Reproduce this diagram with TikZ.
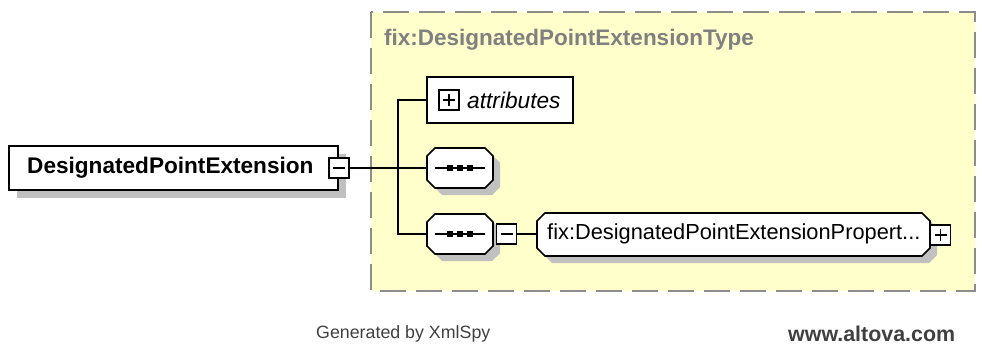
\documentclass[tikz,border=0pt]{standalone}
\usepackage{fontspec}
\setmainfont{Liberation Sans}
\definecolor{yellowbg}{HTML}{FFFFCC}
\definecolor{dashgray}{HTML}{8C8C8C}
\definecolor{titlegray}{HTML}{808080}
\definecolor{shadowgray}{HTML}{C0C0C0}
\definecolor{footgray}{HTML}{404040}
\newcommand\octpath[5]{%
  \path[#5] ({#1+8},#2) -- ({#3-8},#2) -- (#3,{#2+8}) -- (#3,{#4-8}) -- ({#3-8},#4) -- ({#1+8},#4) -- (#1,{#4-8}) -- (#1,{#2+8}) -- cycle;}
\newcommand\seqdots[2]{%
  \draw[line width=1.6pt] ({#1-25},#2) -- ({#1+25},#2);
  \fill ({#1-13},{#2-3}) rectangle ({#1-7},{#2+3});
  \fill ({#1-3},{#2-3}) rectangle ({#1+3},{#2+3});
  \fill ({#1+7},{#2-3}) rectangle ({#1+13},{#2+3});}
\tikzset{
  conn/.style={line width=1.6pt, black},
  boxline/.style={draw=black, line width=1.6pt, fill=white},
  shadowfill/.style={fill=shadowgray},
  expbox/.style={draw=black, line width=1.5pt, fill=white, minimum width=20pt, minimum height=20pt, inner sep=0pt},
  signline/.style={line width=1.5pt},
  anchorbox/.style={draw=none, inner sep=0pt},
  lbl/.style={inner sep=0pt, font=\fontsize{22}{26}\selectfont},
}
\begin{document}
\begin{tikzpicture}[x=1pt,y=-1pt]
\useasboundingbox (0,0) rectangle (982,350);
% type container
\draw[fill=yellowbg, draw=dashgray, line width=2pt, dash pattern=on 26pt off 10pt] (371,12) rectangle (975,291);
\node[lbl, anchor=west, text=titlegray, font=\fontsize{22.5}{26}\selectfont\bfseries] (title) at (384,40) {fix:DesignatedPointExtensionType};
% main element
\fill[shadowfill] (17,154) rectangle (346,198);
\node[boxline, minimum width=329pt, minimum height=44pt, inner sep=0pt] (main) at (173.5,168) {};
\node[lbl, anchor=west, font=\fontsize{22.6}{26}\selectfont\bfseries] (mainlabel) at (27,168) {DesignatedPointExtension};
\node[expbox] (mainminus) at (339,168) {};
\draw[signline] ([xshift=-6pt]mainminus.center) -- ([xshift=6pt]mainminus.center);
% attributes
\node[boxline, minimum width=146pt, minimum height=46pt, inner sep=0pt] (attr) at (500,100) {};
\node[expbox] (attrplus) at (449,100) {};
\draw[signline] ([xshift=-6pt]attrplus.center) -- ([xshift=6pt]attrplus.center)
  ([yshift=-6pt]attrplus.center) -- ([yshift=6pt]attrplus.center);
\node[lbl, anchor=west, font=\fontsize{22.7}{26}\selectfont\itshape] (attrlabel) at (467,100) {attributes};
% sequence 1
\octpath{434}{155}{500}{195}{shadowfill}
\node[anchorbox, minimum width=66pt, minimum height=40pt] (seq1) at (460,168) {};
\octpath{427}{148}{493}{188}{boxline}
\seqdots{460}{168}
% sequence 2
\octpath{434}{221}{500}{261}{shadowfill}
\node[anchorbox, minimum width=66pt, minimum height=40pt] (seq2) at (460,234) {};
\octpath{427}{214}{493}{254}{boxline}
\seqdots{460}{234}
\node[expbox] (seq2minus) at (506.5,234) {};
\draw[signline] ([xshift=-6pt]seq2minus.center) -- ([xshift=6pt]seq2minus.center);
% element
\octpath{544}{220}{937}{263}{shadowfill}
\node[anchorbox, minimum width=393pt, minimum height=43pt] (elem) at (733.5,234) {};
\octpath{537}{213}{930}{256}{boxline}
\node[lbl, anchor=west, font=\fontsize{21.8}{26}\selectfont] (elemlabel) at (547,234) {fix:DesignatedPointExtensionPropert...};
\node[expbox] (elemplus) at (940.5,235) {};
\draw[signline] ([xshift=-6pt]elemplus.center) -- ([xshift=6pt]elemplus.center)
  ([yshift=-6pt]elemplus.center) -- ([yshift=6pt]elemplus.center);
% connectors
\coordinate (jtop) at (398,100);
\coordinate (jmid) at (398,168);
\coordinate (jbot) at (398,234);
\draw[conn] (mainminus.east) -- (jmid) -- (seq1.west);
\draw[conn] (attr.west) -- (jtop) -- (jbot) -- (seq2.west);
\draw[conn] (seq2minus.east) -- (elem.west);
% footer
\node[inner sep=0pt, anchor=west, text=footgray, font=\fontsize{17.8}{20}\selectfont] (gen) at (316,334) {Generated by XmlSpy};
\node[inner sep=0pt, anchor=west, text=footgray, font=\fontsize{21.4}{24}\selectfont\bfseries] (www) at (788,334) {www.altova.com};
\end{tikzpicture}
\end{document}
